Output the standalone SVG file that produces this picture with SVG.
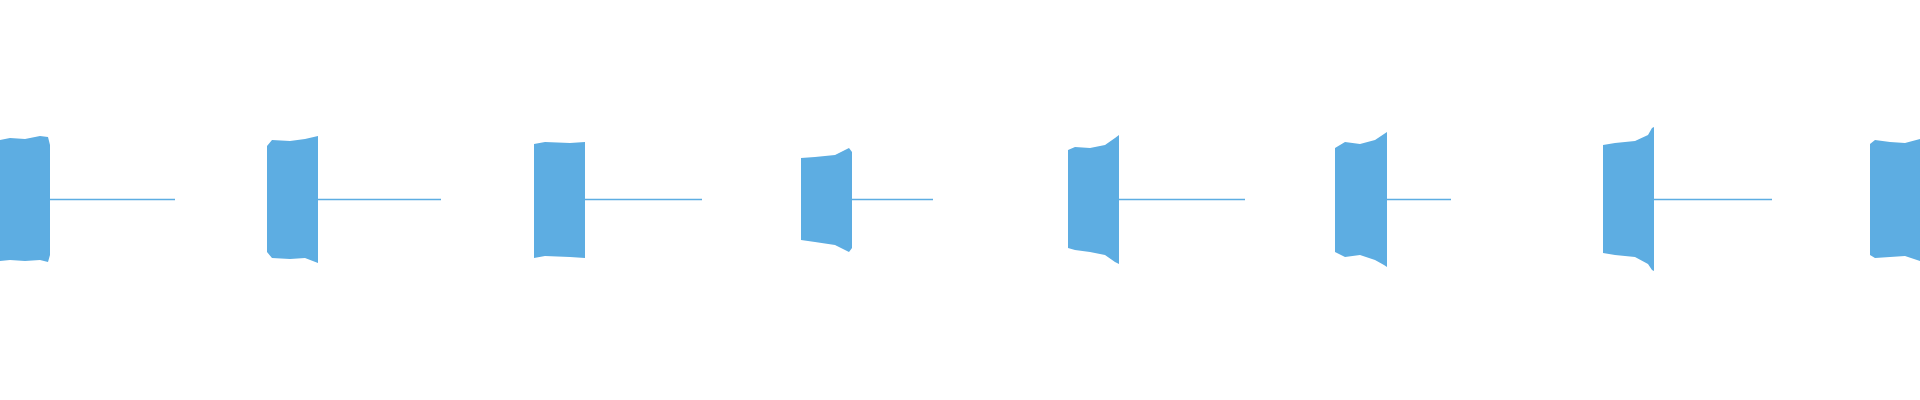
<svg xmlns="http://www.w3.org/2000/svg" width="1920" height="400" viewBox="0 0 1920 400">
<style>.b{fill:#5dade2}.l{stroke:#5dade2;stroke-width:1.5;fill:none}</style>
<rect width="1920" height="400" fill="#fff"/>
<g id="bursts">
<path class="b" d="M0 140 L10 138 L25 139 L40 136 L48 137 L50 145 L50 255 L48 262 L40 260 L25 261 L10 260 L0 261Z"/>
<path class="b" d="M267 146 L272 140 L290 141 L305 139 L318 136 L318 263 L305 258 L290 259 L272 258 L267 252Z"/>
<path class="b" d="M534 144 L545 142 L570 143 L585 142 L585 258 L570 257 L545 256 L534 258Z"/>
<path class="b" d="M801 158 L815 157 L835 155 L845 150 L849 148 L852 152 L852 248 L849 252 L845 250 L835 245 L815 242 L801 240Z"/>
<path class="b" d="M1068 150 L1075 147 L1090 148 L1105 145 L1115 138 L1119 135 L1119 264 L1115 262 L1105 255 L1090 252 L1075 250 L1068 248Z"/>
<path class="b" d="M1335 148 L1345 142 L1360 144 L1375 140 L1384 134 L1387 132 L1387 267 L1384 265 L1375 260 L1360 255 L1345 257 L1335 252Z"/>
<path class="b" d="M1603 145 L1615 143 L1635 141 L1648 135 L1652 128 L1654 127 L1654 271 L1652 270 L1648 264 L1635 257 L1615 255 L1603 253Z"/>
<path class="b" d="M1870 144 L1875 140 L1890 142 L1905 143 L1920 139 L1920 261 L1905 256 L1890 257 L1875 258 L1870 255Z"/>
</g>
<g id="tails">
<path class="l" d="M50 199.5H175M318 199.5H441M585 199.5H702M852 199.5H933M1119 199.5H1245M1387 199.5H1451M1654 199.5H1772"/>
</g>
</svg>
